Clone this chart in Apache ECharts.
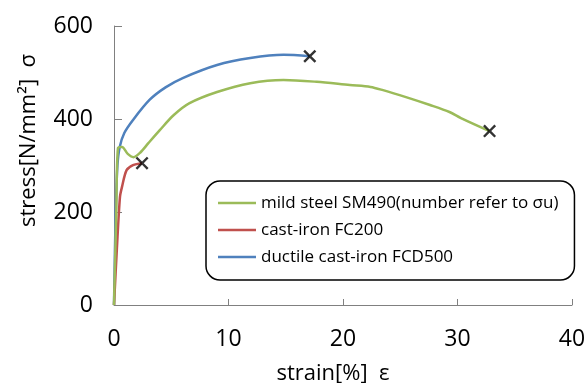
<!DOCTYPE html>
<html>
<head>
<meta charset="utf-8">
<script src="https://cdn.jsdelivr.net/npm/echarts@6/dist/echarts.min.js"></script>
<style>
	html,body{margin:0;padding:0;background:#fff;}
	#stressStrain{width:588px;height:383px;}
</style>
</head>
<body>
<div id="stressStrain"></div>
<script>
	// mild steel SM490
	var steelX = [0, 0.2, 0.35, 0.7, 1.2, 1.7, 2.3, 3.0, 4.0, 5.2, 6.6, 9.0, 11.9, 14.8, 17.7, 20.6, 22.4, 23.5, 25.5, 27.6, 29.3, 30.3, 32.8];
	var steelY = [0, 200, 338, 340, 325, 318, 328, 348, 376, 408, 434, 458, 477, 484, 480, 473, 469, 462, 447, 430, 415, 402, 374];
	// cast-iron FC200
	var castX = [0, 0.25, 0.52, 0.7, 1.1, 1.66, 2.45];
	var castY = [0, 120, 232, 254, 290, 301, 305];
	// ductile cast-iron FCD500
	var ductX = [0, 0.15, 0.3, 0.5, 0.9, 1.66, 3.1, 4.5, 6.0, 9.0, 11.9, 14.8, 17.1];
	var ductY = [0, 200, 300, 340, 370, 398, 441, 468, 488, 516, 531, 538, 535];
	// fracture points
	var breakX = [17.1, 2.45, 32.8];
	var breakY = [535, 305, 374];

	var names = ['mild steel SM490(number refer to σu)', 'cast-iron FC200', 'ductile cast-iron FCD500'];
	var colors = ['#9BBB59', '#C0504D', '#4F81BD'];
	var xTicks = [0, 10, 20, 30, 40];
	var yTicks = [0, 200, 400, 600];

	function pairs(xs, ys){
		var out = [];
		for (var i = 0; i < xs.length; i++) {
			out.push([xs[i], ys[i]]);
		}
		return out;
	}

	var fontName = 'Open Sans';
	// x shaped marker
	var crossPath = 'path://M0,2.6 L2.6,0 L10,7.4 L17.4,0 L20,2.6 L12.6,10 L20,17.4 L17.4,20 L10,12.6 L2.6,20 L0,17.4 L7.4,10 Z';

	var lineData = [pairs(steelX, steelY), pairs(castX, castY), pairs(ductX, ductY)];
	var seriesObjs = [];
	for (var i = 0; i < names.length; i++) {
		seriesObjs.push({
			name: names[i],
			type: 'line',
			data: lineData[i],
			smooth: 0.3,
			symbol: 'none',
			lineStyle: { color: colors[i], width: 2.5 },
			itemStyle: { color: colors[i] },
			z: 3 - i
		});
	}
	seriesObjs.push({
		name: 'break',
		type: 'scatter',
		data: pairs(breakX, breakY),
		symbol: crossPath,
		symbolSize: 13,
		itemStyle: { color: '#000' },
		z: 10
	});

	var option = {
		animation: false,
		textStyle: { fontFamily: fontName },
		grid: { left: 114, right: 16, top: 26, bottom: 78, outerBoundsMode: 'none' },
		legend: {
			data: names,
			orient: 'vertical',
			left: 206,
			top: 181,
			icon: 'rect',
			itemWidth: 38,
			itemHeight: 2.5,
			itemGap: 7,
			padding: [12, 16, 13, 12],
			borderColor: '#000',
			borderWidth: 1.5,
			borderRadius: 14,
			backgroundColor: '#fff',
			textStyle: { fontFamily: fontName, fontSize: 17, color: '#000', lineHeight: 20 }
		},
		xAxis: {
			type: 'value',
			min: xTicks[0],
			max: xTicks[xTicks.length - 1],
			interval: 10,
			name: 'strain[%]  ε',
			nameLocation: 'middle',
			nameGap: 58,
			nameTextStyle: { fontFamily: fontName, fontSize: 22, color: '#000', padding: [0, 20, 0, 0] },
			axisLine: { lineStyle: { color: '#808080', width: 1 } },
			axisTick: { inside: true, length: 6, lineStyle: { color: '#808080' } },
			axisLabel: { fontFamily: fontName, fontSize: 23, color: '#000', margin: 23 },
			splitLine: { show: false }
		},
		yAxis: {
			type: 'value',
			min: yTicks[0],
			max: yTicks[yTicks.length - 1],
			interval: 200,
			name: 'stress[N/mm²]  σ',
			nameLocation: 'middle',
			nameGap: 74,
			nameTextStyle: { fontFamily: fontName, fontSize: 22, color: '#000', padding: [0, 0, 0, 50] },
			axisLine: { show: true, lineStyle: { color: '#808080', width: 1 } },
			axisTick: { show: true, inside: true, length: 8, lineStyle: { color: '#808080' } },
			axisLabel: { fontFamily: fontName, fontSize: 23, color: '#000', margin: 21 },
			splitLine: { show: false }
		},
		series: seriesObjs
	};

	var myChart = echarts.init(document.getElementById('stressStrain'));
	myChart.setOption(option);
</script>
</body>
</html>
